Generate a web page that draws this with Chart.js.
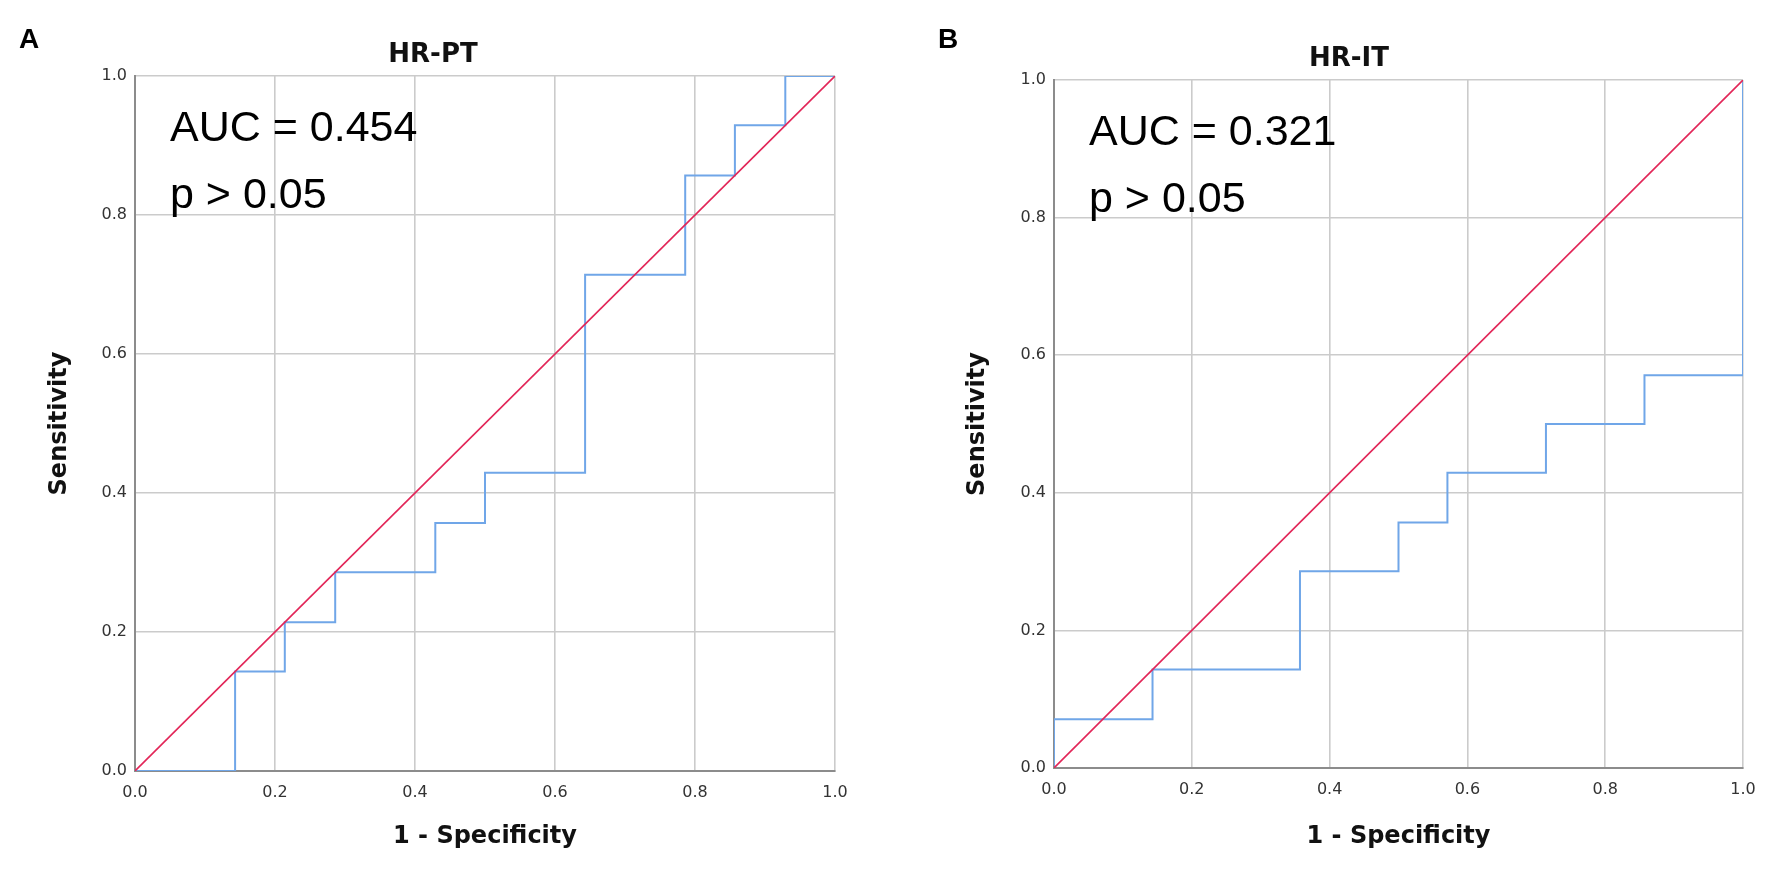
<!DOCTYPE html>
<html>
<head>
<meta charset="utf-8">
<script src="https://cdn.jsdelivr.net/npm/chart.js@4.4.1/dist/chart.umd.min.js"></script>
<style>
  html, body { margin: 0; padding: 0; background: #fff; }
  #wrap { position: relative; width: 1775px; height: 871px; overflow: hidden; }
  .panel { position: absolute; top: 0; height: 871px; }
  .letter { position: absolute; font: bold 28px "Liberation Sans", Arial, sans-serif; color: #000; }
</style>
</head>
<body>
<div id="wrap">
  <div class="panel" style="left:0;width:887px"><canvas id="chartA" width="887" height="871"></canvas></div>
  <div class="panel" style="left:887px;width:888px"><canvas id="chartB" width="888" height="871"></canvas></div>
  <div class="letter" style="left:19px;top:23px">A</div>
  <div class="letter" style="left:938px;top:23px">B</div>
</div>
<script>
// axis ticks (both panels)
const tickValues = [0, 0.2, 0.4, 0.6, 0.8, 1.0];

// reference line
const refX = [0, 1];
const refY = [0, 1];

// panel A: HR-PT roc curve
const ptFpr = [0, 0.143, 0.143, 0.214, 0.214, 0.286, 0.286, 0.429, 0.429, 0.5, 0.5, 0.643, 0.643, 0.786, 0.786, 0.857, 0.857, 0.929, 0.929, 1];
const ptTpr = [0, 0, 0.143, 0.143, 0.214, 0.214, 0.286, 0.286, 0.357, 0.357, 0.429, 0.429, 0.714, 0.714, 0.857, 0.857, 0.929, 0.929, 1, 1];
const ptNotes = ['AUC = 0.454', 'p > 0.05'];

// panel B: HR-IT roc curve
const itFpr = [0, 0, 0.143, 0.143, 0.357, 0.357, 0.5, 0.5, 0.571, 0.571, 0.714, 0.714, 0.857, 0.857, 1, 1];
const itTpr = [0, 0.071, 0.071, 0.143, 0.143, 0.286, 0.286, 0.357, 0.357, 0.429, 0.429, 0.5, 0.5, 0.571, 0.571, 1];
const itNotes = ['AUC = 0.321', 'p > 0.05'];

const toPoints = (xs, ys) => xs.map((x, i) => ({x: x, y: ys[i]}));

// writes the AUC / p text in the upper left of the plot
const notesPlugin = {
    id: 'notes',
    afterDatasetsDraw(chart, args, opts) {
        const {ctx, chartArea} = chart;
        ctx.save();
        ctx.fillStyle = '#000';
        ctx.font = '43px "Liberation Sans", Arial, sans-serif';
        ctx.textBaseline = 'alphabetic';
        ctx.textAlign = 'left';
        opts.lines.forEach((t, i) => {
            ctx.fillText(t, chartArea.left + 35, chartArea.top + 65 + i * 67);
        });
        ctx.restore();
    }
};

// draws one roc panel, box = where the plot area should sit inside the canvas
function rocChart(id, title, fpr, tpr, notes, box) {
    const gridColor = '#cbcbcb';
    const axisFont = {family: '"DejaVu Sans", sans-serif', size: 24, weight: 'bold'};
    const tickFont = {family: '"DejaVu Sans", sans-serif', size: 16};

    return new Chart(document.getElementById(id), {
        type: 'scatter',
        data: {
            datasets: [{
                label: 'Reference',
                data: toPoints(refX, refY),
                showLine: true,
                borderColor: 'rgb(226, 38, 88)',
                borderWidth: 1.6,
                pointRadius: 0,
                order: 0
            }, {
                label: 'ROC',
                data: toPoints(fpr, tpr),
                showLine: true,
                borderColor: 'rgb(112, 166, 232)',
                borderWidth: 2,
                pointRadius: 0,
                order: 1
            }]
        },
        options: {
            responsive: false,
            animation: false,
            layout: {padding: {left: box.padLeft, right: box.padRight, top: 0, bottom: 0}},
            plugins: {
                legend: {display: false},
                tooltip: {enabled: false},
                title: {
                    display: true,
                    text: title,
                    color: '#111',
                    font: {family: '"DejaVu Sans", sans-serif', size: 26, weight: 'bold'},
                    padding: {top: box.titleTop, bottom: box.top - box.titleTop - 31.2}
                },
                notes: {lines: notes}
            },
            scales: {
                x: {
                    type: 'linear',
                    min: 0,
                    max: 1,
                    afterFit: (s) => { s.height = box.xHeight; },
                    afterBuildTicks: (s) => { s.ticks = tickValues.map(v => ({value: v})); },
                    ticks: {
                        font: tickFont,
                        color: '#333',
                        padding: 12,
                        callback: (v) => v.toFixed(1)
                    },
                    grid: {color: gridColor, lineWidth: 1.6, drawTicks: false},
                    border: {color: '#8c8c8c', width: 2},
                    title: {
                        display: true,
                        text: '1 - Specificity',
                        color: '#111',
                        font: axisFont,
                        padding: {top: 4, bottom: 19.6}
                    }
                },
                y: {
                    type: 'linear',
                    min: 0,
                    max: 1,
                    afterFit: (s) => { s.width = box.yWidth; },
                    afterBuildTicks: (s) => { s.ticks = tickValues.map(v => ({value: v})); },
                    ticks: {
                        font: tickFont,
                        color: '#333',
                        padding: 8,
                        callback: (v) => v.toFixed(1)
                    },
                    grid: {color: gridColor, lineWidth: 1.6, drawTicks: false},
                    border: {color: '#8c8c8c', width: 2},
                    title: {
                        display: true,
                        text: 'Sensitivity',
                        color: '#111',
                        font: axisFont,
                        padding: {top: box.yTitlePad, bottom: 4}
                    }
                }
            }
        },
        plugins: [notesPlugin]
    });
}

rocChart('chartA', 'HR-PT', ptFpr, ptTpr, ptNotes,
    {padLeft: 31, padRight: 52, yWidth: 104, top: 76, titleTop: 39.4, xHeight: 100, yTitlePad: 14.6});

rocChart('chartB', 'HR-IT', itFpr, itTpr, itNotes,
    {padLeft: 68, padRight: 32, yWidth: 99, top: 80, titleTop: 43.4, xHeight: 103, yTitlePad: 8.6});
</script>
</body>
</html>
